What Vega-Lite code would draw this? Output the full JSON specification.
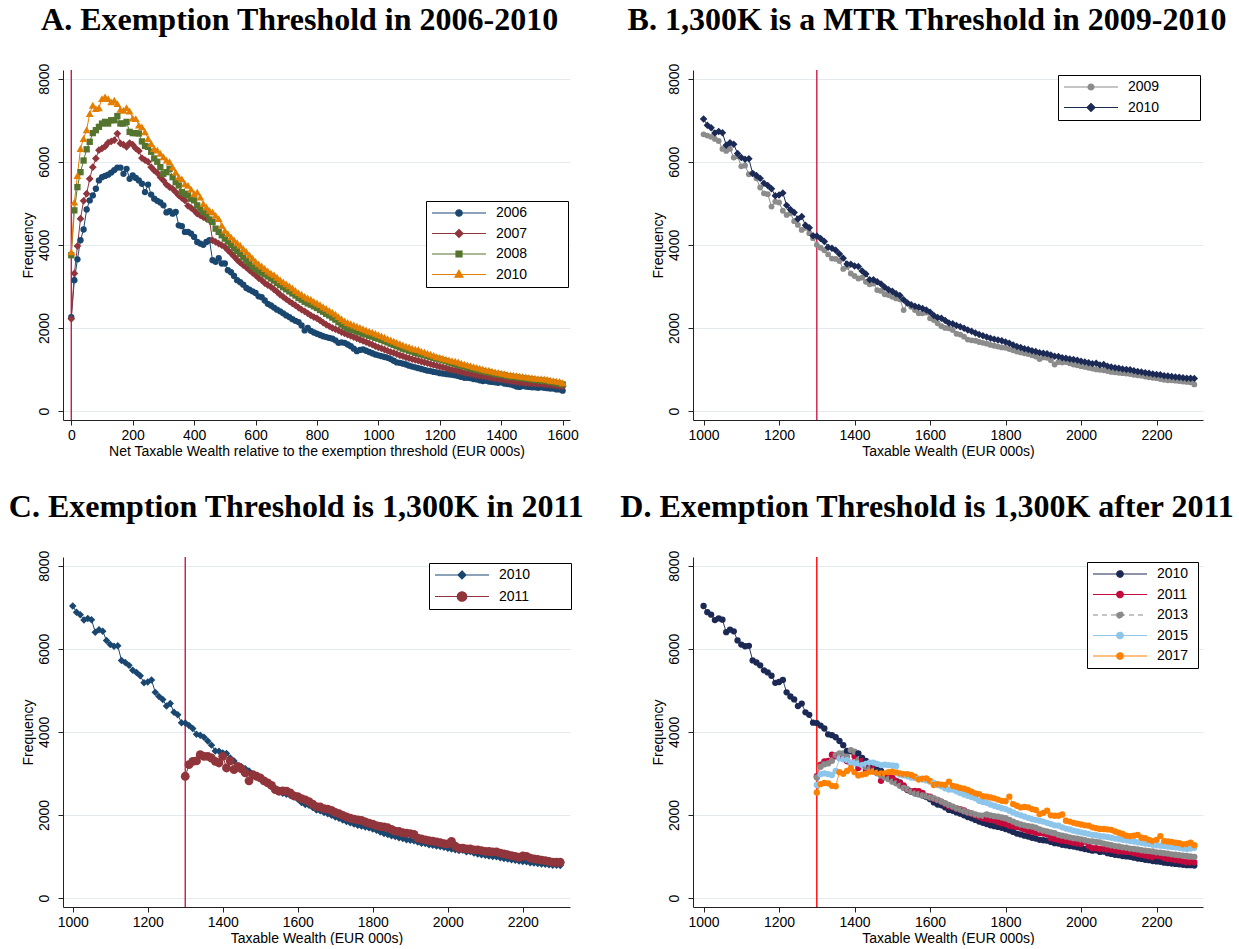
{
  "$schema": "https://vega.github.io/schema/vega-lite/v6.json",
  "background": "white",
  "padding": {"left": 8, "top": 4, "right": 0, "bottom": 0},
  "config": {
    "font": "Liberation Sans",
    "view": {"stroke": null},
    "title": {"font": "Liberation Serif", "fontSize": 32, "fontWeight": "bold", "color": "black", "anchor": "middle", "frame": "bounds", "offset": 26},
    "axis": {"labelFont": "Liberation Sans", "titleFont": "Liberation Sans", "labelFontSize": 14, "titleFontSize": 14, "titleFontWeight": "normal", "labelColor": "black", "titleColor": "black", "domainColor": "#222222", "tickColor": "#222222", "tickSize": 5, "domainWidth": 1, "tickWidth": 1},
    "axisX": {"grid": false, "labelPadding": 3, "titlePadding": 2, "labelFlush": false},
    "axisY": {"grid": true, "gridColor": "#e3ebee", "gridWidth": 1, "labelAngle": -90, "labelAlign": "center", "labelBaseline": "bottom", "labelPadding": 7, "titlePadding": 2},
    "legend": {"orient": "none", "symbolSize": 100, "symbolStrokeWidth": 1.2, "symbolOffset": 21, "labelOffset": 30, "labelFont": "Liberation Sans", "labelFontSize": 14, "labelColor": "black", "strokeColor": "black", "fillColor": "white", "padding": 5, "rowPadding": 6.5}
  },
  "datasets": {
    "a": [
      {"x":0,"2006":2260,"2007":2220,"2008":3750,"2010":3830},
      {"x":10,"2006":3150,"2007":3310,"2008":4830,"2010":5030},
      {"x":20,"2006":3650,"2007":3970,"2008":5390,"2010":5670},
      {"x":30,"2006":4110,"2007":4630,"2008":5750,"2010":6320},
      {"x":40,"2006":4370,"2007":5060,"2008":6030,"2010":6560},
      {"x":50,"2006":4850,"2007":5230,"2008":6300,"2010":6770},
      {"x":60,"2006":5070,"2007":5590,"2008":6480,"2010":7160},
      {"x":70,"2006":5190,"2007":5870,"2008":6690,"2010":7360},
      {"x":80,"2006":5350,"2007":6080,"2008":6760,"2010":7280},
      {"x":90,"2006":5550,"2007":6280,"2008":6840,"2010":7300},
      {"x":100,"2006":5630,"2007":6320,"2008":6920,"2010":7520},
      {"x":110,"2006":5660,"2007":6370,"2008":6960,"2010":7560},
      {"x":120,"2006":5690,"2007":6460,"2008":6920,"2010":7520},
      {"x":130,"2006":5740,"2007":6490,"2008":7000,"2010":7440},
      {"x":140,"2006":5800,"2007":6520,"2008":7000,"2010":7480},
      {"x":150,"2006":5860,"2007":6680,"2008":7100,"2010":7400},
      {"x":160,"2006":5860,"2007":6440,"2008":6920,"2010":7260},
      {"x":170,"2006":5710,"2007":6410,"2008":6920,"2010":7240},
      {"x":180,"2006":5830,"2007":6360,"2008":6960,"2010":7300},
      {"x":190,"2006":5590,"2007":6450,"2008":6720,"2010":7220},
      {"x":200,"2006":5670,"2007":6410,"2008":6690,"2010":7050},
      {"x":210,"2006":5610,"2007":6320,"2008":6690,"2010":7040},
      {"x":220,"2006":5550,"2007":6260,"2008":6680,"2010":6880},
      {"x":230,"2006":5470,"2007":6090,"2008":6490,"2010":6840},
      {"x":240,"2006":5270,"2007":6040,"2008":6380,"2010":6720},
      {"x":250,"2006":5450,"2007":6000,"2008":6360,"2010":6560},
      {"x":260,"2006":5210,"2007":5870,"2008":6240,"2010":6440},
      {"x":270,"2006":5110,"2007":5790,"2008":6080,"2010":6320},
      {"x":280,"2006":5060,"2007":5730,"2008":6000,"2010":6280},
      {"x":290,"2006":5020,"2007":5630,"2008":5870,"2010":6200},
      {"x":300,"2006":4950,"2007":5550,"2008":5710,"2010":6120},
      {"x":310,"2006":4780,"2007":5450,"2008":5750,"2010":6040},
      {"x":320,"2006":4810,"2007":5390,"2008":5830,"2010":6000},
      {"x":330,"2006":4750,"2007":5350,"2008":5630,"2010":5870},
      {"x":340,"2006":4790,"2007":5270,"2008":5510,"2010":5750},
      {"x":350,"2006":4470,"2007":5190,"2008":5430,"2010":5630},
      {"x":360,"2006":4450,"2007":5130,"2008":5270,"2010":5590},
      {"x":370,"2006":4310,"2007":5070,"2008":5230,"2010":5470},
      {"x":380,"2006":4310,"2007":4940,"2008":5190,"2010":5430},
      {"x":390,"2006":4270,"2007":4890,"2008":5110,"2010":5340},
      {"x":400,"2006":4190,"2007":4830,"2008":5070,"2010":5230},
      {"x":410,"2006":4070,"2007":4750,"2008":4950,"2010":5270},
      {"x":420,"2006":4030,"2007":4710,"2008":4870,"2010":5150},
      {"x":430,"2006":4000,"2007":4670,"2008":4790,"2010":4990},
      {"x":440,"2006":4070,"2007":4630,"2008":4750,"2010":4910},
      {"x":450,"2006":4110,"2007":4590,"2008":4610,"2010":4830},
      {"x":460,"2006":3630,"2007":4110,"2008":4550,"2010":4790},
      {"x":470,"2006":3590,"2007":4070,"2008":4390,"2010":4710},
      {"x":480,"2006":3680,"2007":4030,"2008":4310,"2010":4630},
      {"x":490,"2006":3550,"2007":3990,"2008":4230,"2010":4470},
      {"x":500,"2006":3550,"2007":3950,"2008":4150,"2010":4350},
      {"x":510,"2006":3390,"2007":3870,"2008":4080,"2010":4270},
      {"x":520,"2006":3340,"2007":3800,"2008":4000,"2010":4190},
      {"x":530,"2006":3250,"2007":3720,"2008":3920,"2010":4120},
      {"x":540,"2006":3150,"2007":3640,"2008":3850,"2010":4050},
      {"x":550,"2006":3100,"2007":3570,"2008":3780,"2010":3990},
      {"x":560,"2006":3040,"2007":3510,"2008":3700,"2010":3910},
      {"x":570,"2006":2960,"2007":3460,"2008":3620,"2010":3840},
      {"x":580,"2006":2920,"2007":3390,"2008":3550,"2010":3760},
      {"x":590,"2006":2880,"2007":3330,"2008":3480,"2010":3680},
      {"x":600,"2006":2840,"2007":3270,"2008":3420,"2010":3600},
      {"x":610,"2006":2760,"2007":3200,"2008":3370,"2010":3540},
      {"x":620,"2006":2740,"2007":3150,"2008":3330,"2010":3490},
      {"x":630,"2006":2660,"2007":3080,"2008":3290,"2010":3430},
      {"x":640,"2006":2580,"2007":3030,"2008":3240,"2010":3370},
      {"x":650,"2006":2540,"2007":2990,"2008":3190,"2010":3320},
      {"x":660,"2006":2490,"2007":2930,"2008":3140,"2010":3280},
      {"x":670,"2006":2440,"2007":2870,"2008":3080,"2010":3220},
      {"x":680,"2006":2400,"2007":2800,"2008":3030,"2010":3160},
      {"x":690,"2006":2350,"2007":2750,"2008":2980,"2010":3110},
      {"x":700,"2006":2300,"2007":2690,"2008":2930,"2010":3060},
      {"x":710,"2006":2260,"2007":2640,"2008":2880,"2010":3010},
      {"x":720,"2006":2210,"2007":2590,"2008":2830,"2010":2960},
      {"x":730,"2006":2170,"2007":2540,"2008":2780,"2010":2900},
      {"x":740,"2006":2140,"2007":2490,"2008":2720,"2010":2850},
      {"x":750,"2006":2060,"2007":2440,"2008":2680,"2010":2810},
      {"x":760,"2006":1940,"2007":2400,"2008":2630,"2010":2760},
      {"x":770,"2006":2000,"2007":2350,"2008":2590,"2010":2720},
      {"x":780,"2006":1930,"2007":2300,"2008":2560,"2010":2690},
      {"x":790,"2006":1890,"2007":2260,"2008":2520,"2010":2640},
      {"x":800,"2006":1860,"2007":2230,"2008":2480,"2010":2600},
      {"x":810,"2006":1830,"2007":2180,"2008":2430,"2010":2560},
      {"x":820,"2006":1800,"2007":2130,"2008":2390,"2010":2510},
      {"x":830,"2006":1780,"2007":2080,"2008":2340,"2010":2470},
      {"x":840,"2006":1760,"2007":2040,"2008":2300,"2010":2420},
      {"x":850,"2006":1740,"2007":2000,"2008":2250,"2010":2380},
      {"x":860,"2006":1700,"2007":1970,"2008":2200,"2010":2330},
      {"x":870,"2006":1640,"2007":1940,"2008":2140,"2010":2270},
      {"x":880,"2006":1650,"2007":1900,"2008":2080,"2010":2220},
      {"x":890,"2006":1640,"2007":1870,"2008":2030,"2010":2170},
      {"x":900,"2006":1600,"2007":1840,"2008":1990,"2010":2130},
      {"x":910,"2006":1560,"2007":1810,"2008":1960,"2010":2100},
      {"x":920,"2006":1500,"2007":1780,"2008":1940,"2010":2070},
      {"x":930,"2006":1440,"2007":1750,"2008":1910,"2010":2040},
      {"x":940,"2006":1470,"2007":1720,"2008":1890,"2010":2010},
      {"x":950,"2006":1480,"2007":1690,"2008":1860,"2010":1980},
      {"x":960,"2006":1450,"2007":1660,"2008":1840,"2010":1950},
      {"x":970,"2006":1420,"2007":1630,"2008":1810,"2010":1920},
      {"x":980,"2006":1390,"2007":1600,"2008":1790,"2010":1900},
      {"x":990,"2006":1360,"2007":1560,"2008":1760,"2010":1870},
      {"x":1000,"2006":1340,"2007":1530,"2008":1740,"2010":1840},
      {"x":1010,"2006":1320,"2007":1510,"2008":1710,"2010":1810},
      {"x":1020,"2006":1300,"2007":1480,"2008":1680,"2010":1780},
      {"x":1030,"2006":1280,"2007":1450,"2008":1650,"2010":1740},
      {"x":1040,"2006":1250,"2007":1420,"2008":1620,"2010":1710},
      {"x":1050,"2006":1210,"2007":1400,"2008":1590,"2010":1680},
      {"x":1060,"2006":1170,"2007":1370,"2008":1560,"2010":1650},
      {"x":1070,"2006":1160,"2007":1340,"2008":1530,"2010":1620},
      {"x":1080,"2006":1140,"2007":1320,"2008":1500,"2010":1590},
      {"x":1090,"2006":1120,"2007":1290,"2008":1480,"2010":1560},
      {"x":1100,"2006":1090,"2007":1270,"2008":1450,"2010":1540},
      {"x":1110,"2006":1070,"2007":1250,"2008":1430,"2010":1510},
      {"x":1120,"2006":1050,"2007":1230,"2008":1400,"2010":1490},
      {"x":1130,"2006":1030,"2007":1210,"2008":1380,"2010":1480},
      {"x":1140,"2006":1010,"2007":1190,"2008":1360,"2010":1440},
      {"x":1150,"2006":990,"2007":1170,"2008":1340,"2010":1420},
      {"x":1160,"2006":970,"2007":1150,"2008":1320,"2010":1390},
      {"x":1170,"2006":960,"2007":1130,"2008":1300,"2010":1370},
      {"x":1180,"2006":940,"2007":1110,"2008":1280,"2010":1340},
      {"x":1190,"2006":930,"2007":1090,"2008":1260,"2010":1310},
      {"x":1200,"2006":910,"2007":1070,"2008":1240,"2010":1290},
      {"x":1210,"2006":900,"2007":1050,"2008":1220,"2010":1270},
      {"x":1220,"2006":890,"2007":1030,"2008":1200,"2010":1250},
      {"x":1230,"2006":880,"2007":1010,"2008":1170,"2010":1230},
      {"x":1240,"2006":870,"2007":990,"2008":1150,"2010":1210},
      {"x":1250,"2006":860,"2007":980,"2008":1130,"2010":1200},
      {"x":1260,"2006":840,"2007":960,"2008":1110,"2010":1180},
      {"x":1270,"2006":820,"2007":940,"2008":1090,"2010":1150},
      {"x":1280,"2006":800,"2007":920,"2008":1070,"2010":1130},
      {"x":1290,"2006":800,"2007":910,"2008":1050,"2010":1110},
      {"x":1300,"2006":790,"2007":890,"2008":1030,"2010":1090},
      {"x":1310,"2006":770,"2007":880,"2008":1010,"2010":1070},
      {"x":1320,"2006":760,"2007":860,"2008":990,"2010":1050},
      {"x":1330,"2006":740,"2007":850,"2008":970,"2010":1030},
      {"x":1340,"2006":720,"2007":840,"2008":960,"2010":1010},
      {"x":1350,"2006":730,"2007":830,"2008":940,"2010":990},
      {"x":1360,"2006":710,"2007":810,"2008":930,"2010":980},
      {"x":1370,"2006":700,"2007":800,"2008":910,"2010":960},
      {"x":1380,"2006":690,"2007":780,"2008":890,"2010":940},
      {"x":1390,"2006":680,"2007":770,"2008":880,"2010":930},
      {"x":1400,"2006":690,"2007":760,"2008":870,"2010":910},
      {"x":1410,"2006":660,"2007":750,"2008":860,"2010":900},
      {"x":1420,"2006":650,"2007":740,"2008":840,"2010":880},
      {"x":1430,"2006":640,"2007":720,"2008":830,"2010":870},
      {"x":1440,"2006":620,"2007":710,"2008":820,"2010":860},
      {"x":1450,"2006":590,"2007":700,"2008":810,"2010":850},
      {"x":1460,"2006":580,"2007":690,"2008":800,"2010":840},
      {"x":1470,"2006":600,"2007":680,"2008":790,"2010":830},
      {"x":1480,"2006":590,"2007":670,"2008":780,"2010":820},
      {"x":1490,"2006":580,"2007":670,"2008":770,"2010":810},
      {"x":1500,"2006":570,"2007":660,"2008":760,"2010":800},
      {"x":1510,"2006":570,"2007":660,"2008":750,"2010":790},
      {"x":1520,"2006":560,"2007":650,"2008":740,"2010":780},
      {"x":1530,"2006":570,"2007":650,"2008":730,"2010":780},
      {"x":1540,"2006":560,"2007":640,"2008":730,"2010":770},
      {"x":1550,"2006":550,"2007":640,"2008":720,"2010":760},
      {"x":1560,"2006":540,"2007":630,"2008":700,"2010":740},
      {"x":1570,"2006":540,"2007":620,"2008":690,"2010":730},
      {"x":1580,"2006":520,"2007":610,"2008":670,"2010":720},
      {"x":1590,"2006":520,"2007":600,"2008":660,"2010":710},
      {"x":1600,"2006":490,"2007":590,"2008":640,"2010":680}
    ],
    "w": [
      {"x":1000,"2009":6660,"2010":7030},
      {"x":1010,"2009":6630,"2010":6880},
      {"x":1020,"2009":6600,"2010":6820},
      {"x":1030,"2009":6550,"2010":6690},
      {"x":1040,"2009":6500,"2010":6730},
      {"x":1050,"2009":6310,"2010":6700},
      {"x":1060,"2009":6260,"2010":6400},
      {"x":1070,"2009":6310,"2010":6460},
      {"x":1080,"2009":6100,"2010":6420},
      {"x":1090,"2009":6130,"2010":6200},
      {"x":1100,"2009":5890,"2010":6100},
      {"x":1110,"2009":5910,"2010":6060},
      {"x":1120,"2009":5700,"2010":6070},
      {"x":1130,"2009":5720,"2010":5720},
      {"x":1140,"2009":5600,"2010":5670},
      {"x":1150,"2009":5380,"2010":5600},
      {"x":1160,"2009":5240,"2010":5480},
      {"x":1170,"2009":5220,"2010":5430},
      {"x":1180,"2009":4920,"2010":5350},
      {"x":1190,"2009":5040,"2010":5180},
      {"x":1200,"2009":5020,"2010":5200},
      {"x":1210,"2009":4820,"2010":5250},
      {"x":1220,"2009":4720,"2010":4950},
      {"x":1230,"2009":4760,"2010":4850},
      {"x":1240,"2009":4570,"2010":4780},
      {"x":1250,"2009":4480,"2010":4620},
      {"x":1260,"2009":4360,"2010":4680},
      {"x":1270,"2009":4410,"2010":4470},
      {"x":1280,"2009":4280,"2010":4410},
      {"x":1290,"2009":4160,"2010":4220},
      {"x":1300,"2009":4000,"2010":4210,"2011":2930,"2013":2900,"2015":2720,"2017":2540},
      {"x":1310,"2009":3930,"2010":4150,"2011":3210,"2013":3160,"2015":2980,"2017":2740},
      {"x":1320,"2009":3870,"2010":4080,"2011":3290,"2013":3220,"2015":3000,"2017":2770},
      {"x":1330,"2009":3770,"2010":3940,"2011":3300,"2013":3240,"2015":2980,"2017":2760},
      {"x":1340,"2009":3670,"2010":3920,"2011":3450,"2013":3300,"2015":2960,"2017":2700},
      {"x":1350,"2009":3660,"2010":3870,"2011":3410,"2013":3440,"2015":3060,"2017":2690},
      {"x":1360,"2009":3610,"2010":3780,"2011":3410,"2013":3480,"2015":3360,"2017":3030},
      {"x":1370,"2009":3420,"2010":3680,"2011":3370,"2013":3480,"2015":3340,"2017":2990},
      {"x":1380,"2009":3470,"2010":3540,"2011":3290,"2013":3400,"2015":3320,"2017":3060},
      {"x":1390,"2009":3310,"2010":3530,"2011":3250,"2013":3560,"2015":3260,"2017":3120},
      {"x":1400,"2009":3250,"2010":3490,"2011":3410,"2013":3520,"2015":3250,"2017":3030},
      {"x":1410,"2009":3190,"2010":3480,"2011":3130,"2013":3320,"2015":3240,"2017":2950},
      {"x":1420,"2009":3210,"2010":3370,"2011":3300,"2013":3200,"2015":3200,"2017":2970},
      {"x":1430,"2009":3110,"2010":3300,"2011":3090,"2013":3150,"2015":3230,"2017":2990},
      {"x":1440,"2009":3050,"2010":3160,"2011":3170,"2013":3100,"2015":3260,"2017":3040},
      {"x":1450,"2009":3070,"2010":3160,"2011":3110,"2013":3060,"2015":3260,"2017":3040},
      {"x":1460,"2009":2910,"2010":3110,"2011":3010,"2013":3000,"2015":3230,"2017":3020},
      {"x":1470,"2009":2890,"2010":3060,"2011":2820,"2013":2950,"2015":3200,"2017":3000},
      {"x":1480,"2009":2810,"2010":2980,"2011":2970,"2013":2900,"2015":3210,"2017":3000},
      {"x":1490,"2009":2790,"2010":2920,"2011":2930,"2013":2860,"2015":3200,"2017":3030},
      {"x":1500,"2009":2750,"2010":2880,"2011":2890,"2013":2800,"2015":3190,"2017":3040},
      {"x":1510,"2009":2710,"2010":2820,"2011":2820,"2013":2760,"2015":3180,"2017":3020},
      {"x":1520,"2009":2690,"2010":2780,"2011":2770,"2013":2700,"2015":2970,"2017":3000},
      {"x":1530,"2009":2430,"2010":2680,"2011":2710,"2013":2650,"2015":2950,"2017":2980},
      {"x":1540,"2009":2590,"2010":2600,"2011":2610,"2013":2620,"2015":2930,"2017":2980},
      {"x":1550,"2009":2510,"2010":2560,"2011":2570,"2013":2560,"2015":2900,"2017":2960},
      {"x":1560,"2009":2430,"2010":2520,"2011":2580,"2013":2520,"2015":2890,"2017":2920},
      {"x":1570,"2009":2350,"2010":2500,"2011":2570,"2013":2500,"2015":2870,"2017":2850},
      {"x":1580,"2009":2350,"2010":2470,"2011":2530,"2013":2470,"2015":2850,"2017":2870},
      {"x":1590,"2009":2370,"2010":2430,"2011":2460,"2013":2450,"2015":2830,"2017":2880},
      {"x":1600,"2009":2230,"2010":2380,"2011":2440,"2013":2420,"2015":2800,"2017":2820},
      {"x":1610,"2009":2190,"2010":2300,"2011":2390,"2013":2400,"2015":2770,"2017":2720},
      {"x":1620,"2009":2110,"2010":2250,"2011":2360,"2013":2360,"2015":2720,"2017":2740},
      {"x":1630,"2009":2040,"2010":2230,"2011":2320,"2013":2320,"2015":2690,"2017":2730},
      {"x":1640,"2009":2000,"2010":2180,"2011":2260,"2013":2280,"2015":2640,"2017":2720},
      {"x":1650,"2009":1990,"2010":2120,"2011":2200,"2013":2240,"2015":2610,"2017":2800},
      {"x":1660,"2009":1950,"2010":2100,"2011":2190,"2013":2200,"2015":2610,"2017":2700},
      {"x":1670,"2009":1860,"2010":2060,"2011":2150,"2013":2160,"2015":2570,"2017":2680},
      {"x":1680,"2009":1840,"2010":2030,"2011":2140,"2013":2130,"2015":2530,"2017":2650},
      {"x":1690,"2009":1790,"2010":1990,"2011":2110,"2013":2090,"2015":2490,"2017":2630},
      {"x":1700,"2009":1720,"2010":1950,"2011":2060,"2013":2060,"2015":2460,"2017":2600},
      {"x":1710,"2009":1700,"2010":1920,"2011":2030,"2013":2040,"2015":2430,"2017":2560},
      {"x":1720,"2009":1690,"2010":1880,"2011":1990,"2013":2010,"2015":2400,"2017":2520},
      {"x":1730,"2009":1660,"2010":1840,"2011":1950,"2013":1990,"2015":2340,"2017":2500},
      {"x":1740,"2009":1640,"2010":1810,"2011":1920,"2013":1980,"2015":2310,"2017":2450},
      {"x":1750,"2009":1620,"2010":1780,"2011":1900,"2013":2010,"2015":2290,"2017":2440},
      {"x":1760,"2009":1590,"2010":1750,"2011":1880,"2013":1990,"2015":2250,"2017":2420},
      {"x":1770,"2009":1570,"2010":1730,"2011":1870,"2013":1970,"2015":2220,"2017":2400},
      {"x":1780,"2009":1550,"2010":1710,"2011":1830,"2013":1960,"2015":2190,"2017":2370},
      {"x":1790,"2009":1530,"2010":1690,"2011":1800,"2013":1940,"2015":2160,"2017":2340},
      {"x":1800,"2009":1520,"2010":1660,"2011":1780,"2013":1920,"2015":2140,"2017":2330},
      {"x":1810,"2009":1490,"2010":1630,"2011":1740,"2013":1880,"2015":2100,"2017":2440},
      {"x":1820,"2009":1460,"2010":1590,"2011":1720,"2013":1840,"2015":2060,"2017":2260},
      {"x":1830,"2009":1430,"2010":1550,"2011":1710,"2013":1800,"2015":2020,"2017":2220},
      {"x":1840,"2009":1410,"2010":1530,"2011":1690,"2013":1770,"2015":1990,"2017":2180},
      {"x":1850,"2009":1390,"2010":1500,"2011":1650,"2013":1750,"2015":1960,"2017":2190},
      {"x":1860,"2009":1370,"2010":1480,"2011":1610,"2013":1730,"2015":1930,"2017":2180},
      {"x":1870,"2009":1340,"2010":1450,"2011":1600,"2013":1720,"2015":1900,"2017":2140},
      {"x":1880,"2009":1310,"2010":1430,"2011":1570,"2013":1690,"2015":1880,"2017":2120},
      {"x":1890,"2009":1250,"2010":1400,"2011":1560,"2013":1650,"2015":1860,"2017":2020},
      {"x":1900,"2009":1290,"2010":1390,"2011":1550,"2013":1620,"2015":1840,"2017":2050},
      {"x":1910,"2009":1280,"2010":1380,"2011":1530,"2013":1600,"2015":1810,"2017":2100},
      {"x":1920,"2009":1220,"2010":1350,"2011":1440,"2013":1580,"2015":1780,"2017":1990},
      {"x":1930,"2009":1120,"2010":1320,"2011":1420,"2013":1560,"2015":1750,"2017":1980},
      {"x":1940,"2009":1180,"2010":1310,"2011":1400,"2013":1520,"2015":1740,"2017":1980},
      {"x":1950,"2009":1170,"2010":1280,"2011":1380,"2013":1500,"2015":1700,"2017":2010},
      {"x":1960,"2009":1180,"2010":1270,"2011":1370,"2013":1480,"2015":1670,"2017":1860},
      {"x":1970,"2009":1150,"2010":1250,"2011":1350,"2013":1460,"2015":1650,"2017":1840},
      {"x":1980,"2009":1120,"2010":1240,"2011":1330,"2013":1440,"2015":1620,"2017":1810},
      {"x":1990,"2009":1100,"2010":1220,"2011":1310,"2013":1430,"2015":1600,"2017":1790},
      {"x":2000,"2009":1080,"2010":1200,"2011":1300,"2013":1410,"2015":1580,"2017":1770},
      {"x":2010,"2009":1060,"2010":1180,"2011":1360,"2013":1390,"2015":1560,"2017":1750},
      {"x":2020,"2009":1040,"2010":1160,"2011":1250,"2013":1370,"2015":1540,"2017":1740},
      {"x":2030,"2009":1020,"2010":1140,"2011":1200,"2013":1360,"2015":1520,"2017":1700},
      {"x":2040,"2009":1000,"2010":1150,"2011":1200,"2013":1350,"2015":1510,"2017":1680},
      {"x":2050,"2009":990,"2010":1110,"2011":1180,"2013":1340,"2015":1490,"2017":1660},
      {"x":2060,"2009":980,"2010":1120,"2011":1180,"2013":1310,"2015":1480,"2017":1660},
      {"x":2070,"2009":960,"2010":1080,"2011":1160,"2013":1290,"2015":1470,"2017":1650},
      {"x":2080,"2009":940,"2010":1060,"2011":1160,"2013":1270,"2015":1450,"2017":1640},
      {"x":2090,"2009":930,"2010":1040,"2011":1140,"2013":1250,"2015":1430,"2017":1600},
      {"x":2100,"2009":920,"2010":1030,"2011":1120,"2013":1240,"2015":1420,"2017":1570},
      {"x":2110,"2009":910,"2010":1010,"2011":1120,"2013":1220,"2015":1400,"2017":1540},
      {"x":2120,"2009":900,"2010":1000,"2011":1110,"2013":1210,"2015":1390,"2017":1500},
      {"x":2130,"2009":890,"2010":990,"2011":1110,"2013":1190,"2015":1370,"2017":1490},
      {"x":2140,"2009":870,"2010":970,"2011":1080,"2013":1180,"2015":1360,"2017":1500},
      {"x":2150,"2009":860,"2010":950,"2011":1060,"2013":1170,"2015":1340,"2017":1520},
      {"x":2160,"2009":850,"2010":940,"2011":1040,"2013":1150,"2015":1330,"2017":1450},
      {"x":2170,"2009":830,"2010":920,"2011":1020,"2013":1140,"2015":1310,"2017":1440},
      {"x":2180,"2009":810,"2010":910,"2011":1000,"2013":1130,"2015":1300,"2017":1400},
      {"x":2190,"2009":800,"2010":890,"2011":980,"2013":1120,"2015":1280,"2017":1370},
      {"x":2200,"2009":790,"2010":880,"2011":1010,"2013":1100,"2015":1270,"2017":1400},
      {"x":2210,"2009":770,"2010":870,"2011":1000,"2013":1090,"2015":1260,"2017":1490},
      {"x":2220,"2009":750,"2010":850,"2011":960,"2013":1080,"2015":1250,"2017":1370},
      {"x":2230,"2009":740,"2010":840,"2011":940,"2013":1070,"2015":1240,"2017":1360},
      {"x":2240,"2009":740,"2010":830,"2011":930,"2013":1050,"2015":1230,"2017":1350},
      {"x":2250,"2009":730,"2010":820,"2011":910,"2013":1040,"2015":1220,"2017":1330},
      {"x":2260,"2009":720,"2010":810,"2011":900,"2013":1030,"2015":1210,"2017":1320},
      {"x":2270,"2009":710,"2010":800,"2011":880,"2013":1020,"2015":1190,"2017":1290},
      {"x":2280,"2009":700,"2010":790,"2011":860,"2013":1010,"2015":1180,"2017":1300},
      {"x":2290,"2009":690,"2010":790,"2011":860,"2013":1000,"2015":1190,"2017":1330},
      {"x":2300,"2009":640,"2010":780,"2011":860,"2013":990,"2015":1210,"2017":1270}
    ]
  },
  "vconcat": [
    {
      "bounds": "flush",
      "spacing": 123,
      "resolve": {"scale": {"x": "independent", "y": "independent", "color": "independent", "strokeDash": "independent"}},
      "hconcat": [
        {
          "title": "A. Exemption Threshold in 2006-2010",
          "width": 507,
          "height": 350,
          "layer": [
            {
              "data": {"values": [{"x": 0}]},
              "mark": {"type": "rule", "color": "#cc1a45", "strokeWidth": 1.4},
              "encoding": {
                "x": {"field": "x", "type": "quantitative", "title": "Net Taxable Wealth relative to the exemption threshold (EUR 000s)", "scale": {"domain": [-27, 1624], "nice": false, "zero": false}}
              }
            },
            {
              "data": {"name": "a"},
              "transform": [{"fold": ["2006", "2007", "2008", "2010"], "as": ["year", "n"]}],
              "mark": {"type": "line", "strokeWidth": 1},
              "encoding": {
                "x": {"field": "x", "type": "quantitative", "title": "Net Taxable Wealth relative to the exemption threshold (EUR 000s)", "scale": {"domain": [-27, 1624], "nice": false, "zero": false}, "axis": {"values": [0, 200, 400, 600, 800, 1000, 1200, 1400, 1600], "format": "d"}},
                "y": {"field": "n", "type": "quantitative", "title": "Frequency", "scale": {"domain": [-217, 8209], "nice": false, "zero": false}, "axis": {"values": [0, 2000, 4000, 6000, 8000], "format": "d"}},
                "color": {
                  "field": "year", "type": "nominal",
                  "scale": {"domain": ["2006", "2007", "2008", "2010"], "range": ["#1a476f", "#90353b", "#55752f", "#e37e00"]},
                  "legend": {
                    "title": null, "orient": "none", "legendX": 363, "legendY": 131,
                    "labelExpr": "datum.label + '\u00a0\u00a0\u00a0\u00a0\u00a0\u00a0\u00a0\u00a0\u00a0\u200b'",
                    "encode": {"symbols": {"update": {
                      "shape": {"signal": "datum.value==='2006'?'M-5.4,0L5.4,0M-0.65,0A0.65,0.65,0,1,0,0.65,0A0.65,0.65,0,1,0,-0.65,0Z':datum.value==='2007'?'M-5.4,0L5.4,0M0,-0.8L0.8,0L0,0.8L-0.8,0Z':datum.value==='2008'?'M-5.4,0L5.4,0M-0.6,-0.6L0.6,-0.6L0.6,0.6L-0.6,0.6Z':'M-5.4,0L5.4,0M0,-0.85L0.8,0.55L-0.8,0.55Z'"},
                      "fill": {"signal": "datum.value==='2006'?'#1a476f':datum.value==='2007'?'#90353b':datum.value==='2008'?'#55752f':'#e37e00'"},
                      "stroke": {"signal": "datum.value==='2006'?'#1a476f':datum.value==='2007'?'#90353b':datum.value==='2008'?'#55752f':'#e37e00'"},
                      "opacity": {"value": 1}
                    }}}
                  }
                }
              }
            },
            {
              "data": {"name": "a"},
              "transform": [{"fold": ["2006"], "as": ["year", "n"]}],
              "mark": {"type": "point", "filled": true, "opacity": 1, "shape": "circle", "size": 40, "color": "#1a476f"},
              "encoding": {
                "x": {"field": "x", "type": "quantitative", "title": "Net Taxable Wealth relative to the exemption threshold (EUR 000s)", "scale": {"domain": [-27, 1624], "nice": false, "zero": false}},
                "y": {"field": "n", "type": "quantitative", "title": "Frequency", "scale": {"domain": [-217, 8209], "nice": false, "zero": false}}
              }
            },
            {
              "data": {"name": "a"},
              "transform": [{"fold": ["2007"], "as": ["year", "n"]}],
              "mark": {"type": "point", "filled": true, "opacity": 1, "shape": "diamond", "size": 60, "color": "#90353b"},
              "encoding": {
                "x": {"field": "x", "type": "quantitative", "title": "Net Taxable Wealth relative to the exemption threshold (EUR 000s)", "scale": {"domain": [-27, 1624], "nice": false, "zero": false}},
                "y": {"field": "n", "type": "quantitative", "title": "Frequency", "scale": {"domain": [-217, 8209], "nice": false, "zero": false}}
              }
            },
            {
              "data": {"name": "a"},
              "transform": [{"fold": ["2008"], "as": ["year", "n"]}],
              "mark": {"type": "point", "filled": true, "opacity": 1, "shape": "square", "size": 40, "color": "#55752f"},
              "encoding": {
                "x": {"field": "x", "type": "quantitative", "title": "Net Taxable Wealth relative to the exemption threshold (EUR 000s)", "scale": {"domain": [-27, 1624], "nice": false, "zero": false}},
                "y": {"field": "n", "type": "quantitative", "title": "Frequency", "scale": {"domain": [-217, 8209], "nice": false, "zero": false}}
              }
            },
            {
              "data": {"name": "a"},
              "transform": [{"fold": ["2010"], "as": ["year", "n"]}],
              "mark": {"type": "point", "filled": true, "opacity": 1, "shape": "triangle-up", "size": 62, "color": "#e37e00"},
              "encoding": {
                "x": {"field": "x", "type": "quantitative", "title": "Net Taxable Wealth relative to the exemption threshold (EUR 000s)", "scale": {"domain": [-27, 1624], "nice": false, "zero": false}},
                "y": {"field": "n", "type": "quantitative", "title": "Frequency", "scale": {"domain": [-217, 8209], "nice": false, "zero": false}}
              }
            }
          ]
        },
        {
          "title": "B. 1,300K is a MTR Threshold in 2009-2010",
          "width": 510,
          "height": 350,
          "layer": [
            {
              "data": {"values": [{"x": 1300}]},
              "mark": {"type": "rule", "color": "#cc1a45", "strokeWidth": 1.4},
              "encoding": {
                "x": {"field": "x", "type": "quantitative", "title": "Taxable Wealth (EUR 000s)", "scale": {"domain": [972, 2323], "nice": false, "zero": false}}
              }
            },
            {
              "data": {"name": "w"},
              "transform": [{"fold": ["2009", "2010"], "as": ["year", "n"]}],
              "mark": {"type": "line", "strokeWidth": 1},
              "encoding": {
                "x": {"field": "x", "type": "quantitative", "title": "Taxable Wealth (EUR 000s)", "scale": {"domain": [972, 2323], "nice": false, "zero": false}, "axis": {"values": [1000, 1200, 1400, 1600, 1800, 2000, 2200], "format": "d"}},
                "y": {"field": "n", "type": "quantitative", "title": "Frequency", "scale": {"domain": [-217, 8209], "nice": false, "zero": false}, "axis": {"values": [0, 2000, 4000, 6000, 8000], "format": "d"}},
                "color": {
                  "field": "year", "type": "nominal",
                  "scale": {"domain": ["2009", "2010"], "range": ["#8c8c8c", "#1b2a55"]},
                  "legend": {
                    "title": null, "orient": "none", "legendX": 365, "legendY": 5,
                    "labelExpr": "datum.label + '\u00a0\u00a0\u00a0\u00a0\u00a0\u00a0\u00a0\u00a0\u00a0\u200b'",
                    "encode": {"symbols": {"update": {
                      "shape": {"signal": "datum.value==='2009'?'M-5.4,0L5.4,0M-0.6,0A0.6,0.6,0,1,0,0.6,0A0.6,0.6,0,1,0,-0.6,0Z':'M-5.4,0L5.4,0M0,-0.8L0.8,0L0,0.8L-0.8,0Z'"},
                      "fill": {"signal": "datum.value==='2009'?'#8c8c8c':'#1b2a55'"},
                      "stroke": {"signal": "datum.value==='2009'?'#8c8c8c':'#1b2a55'"},
                      "opacity": {"value": 1}
                    }}}
                  }
                }
              }
            },
            {
              "data": {"name": "w"},
              "transform": [{"fold": ["2009"], "as": ["year", "n"]}],
              "mark": {"type": "point", "filled": true, "opacity": 1, "shape": "circle", "size": 34, "color": "#8c8c8c"},
              "encoding": {
                "x": {"field": "x", "type": "quantitative", "title": "Taxable Wealth (EUR 000s)", "scale": {"domain": [972, 2323], "nice": false, "zero": false}},
                "y": {"field": "n", "type": "quantitative", "title": "Frequency", "scale": {"domain": [-217, 8209], "nice": false, "zero": false}}
              }
            },
            {
              "data": {"name": "w"},
              "transform": [{"fold": ["2010"], "as": ["year", "n"]}],
              "mark": {"type": "point", "filled": true, "opacity": 1, "shape": "diamond", "size": 56, "color": "#1b2a55"},
              "encoding": {
                "x": {"field": "x", "type": "quantitative", "title": "Taxable Wealth (EUR 000s)", "scale": {"domain": [972, 2323], "nice": false, "zero": false}},
                "y": {"field": "n", "type": "quantitative", "title": "Frequency", "scale": {"domain": [-217, 8209], "nice": false, "zero": false}}
              }
            }
          ]
        }
      ]
    },
    {
      "bounds": "flush",
      "spacing": 123,
      "resolve": {"scale": {"x": "independent", "y": "independent", "color": "independent", "strokeDash": "independent"}},
      "hconcat": [
        {
          "title": "C. Exemption Threshold is 1,300K in 2011",
          "width": 507,
          "height": 350,
          "layer": [
            {
              "data": {"values": [{"x": 1300}]},
              "mark": {"type": "rule", "color": "#cc1a45", "strokeWidth": 1.4},
              "encoding": {
                "x": {"field": "x", "type": "quantitative", "title": "Taxable Wealth (EUR 000s)", "scale": {"domain": [974, 2326], "nice": false, "zero": false}}
              }
            },
            {
              "data": {"name": "w"},
              "transform": [{"fold": ["2010", "2011"], "as": ["year", "n"]}, {"filter": "isValid(datum.n)"}],
              "mark": {"type": "line", "strokeWidth": 1},
              "encoding": {
                "x": {"field": "x", "type": "quantitative", "title": "Taxable Wealth (EUR 000s)", "scale": {"domain": [974, 2326], "nice": false, "zero": false}, "axis": {"values": [1000, 1200, 1400, 1600, 1800, 2000, 2200], "format": "d"}},
                "y": {"field": "n", "type": "quantitative", "title": "Frequency", "scale": {"domain": [-217, 8209], "nice": false, "zero": false}, "axis": {"values": [0, 2000, 4000, 6000, 8000], "format": "d"}},
                "color": {
                  "field": "year", "type": "nominal",
                  "scale": {"domain": ["2010", "2011"], "range": ["#1a476f", "#90353b"]},
                  "legend": {
                    "title": null, "orient": "none", "legendX": 366, "legendY": 6,
                    "labelExpr": "datum.label + '\u00a0\u00a0\u00a0\u00a0\u00a0\u00a0\u00a0\u00a0\u00a0\u200b'",
                    "encode": {"symbols": {"update": {
                      "shape": {"signal": "datum.value==='2010'?'M-5.4,0L5.4,0M0,-0.8L0.8,0L0,0.8L-0.8,0Z':'M-5.4,0L5.4,0M-0.95,0A0.95,0.95,0,1,0,0.95,0A0.95,0.95,0,1,0,-0.95,0Z'"},
                      "fill": {"signal": "datum.value==='2010'?'#1a476f':'#90353b'"},
                      "stroke": {"signal": "datum.value==='2010'?'#1a476f':'#90353b'"},
                      "opacity": {"value": 1}
                    }}}
                  }
                }
              }
            },
            {
              "data": {"name": "w"},
              "transform": [{"fold": ["2010"], "as": ["year", "n"]}],
              "mark": {"type": "point", "filled": true, "opacity": 1, "shape": "diamond", "size": 56, "color": "#1a476f"},
              "encoding": {
                "x": {"field": "x", "type": "quantitative", "title": "Taxable Wealth (EUR 000s)", "scale": {"domain": [974, 2326], "nice": false, "zero": false}},
                "y": {"field": "n", "type": "quantitative", "title": "Frequency", "scale": {"domain": [-217, 8209], "nice": false, "zero": false}}
              }
            },
            {
              "data": {"name": "w"},
              "transform": [{"fold": ["2011"], "as": ["year", "n"]}, {"filter": "isValid(datum.n)"}],
              "mark": {"type": "point", "filled": true, "opacity": 1, "shape": "circle", "size": 78, "color": "#90353b"},
              "encoding": {
                "x": {"field": "x", "type": "quantitative", "title": "Taxable Wealth (EUR 000s)", "scale": {"domain": [974, 2326], "nice": false, "zero": false}},
                "y": {"field": "n", "type": "quantitative", "title": "Frequency", "scale": {"domain": [-217, 8209], "nice": false, "zero": false}}
              }
            }
          ]
        },
        {
          "title": "D. Exemption Threshold is 1,300K after 2011",
          "width": 510,
          "height": 350,
          "layer": [
            {
              "data": {"values": [{"x": 1300}]},
              "mark": {"type": "rule", "color": "#ff0000", "strokeWidth": 1.4},
              "encoding": {
                "x": {"field": "x", "type": "quantitative", "title": "Taxable Wealth (EUR 000s)", "scale": {"domain": [972, 2323], "nice": false, "zero": false}}
              }
            },
            {
              "data": {"name": "w"},
              "transform": [{"fold": ["2010", "2011", "2013", "2015", "2017"], "as": ["year", "n"]}, {"filter": "isValid(datum.n)"}],
              "mark": {"type": "line", "strokeWidth": 1},
              "encoding": {
                "x": {"field": "x", "type": "quantitative", "title": "Taxable Wealth (EUR 000s)", "scale": {"domain": [972, 2323], "nice": false, "zero": false}, "axis": {"values": [1000, 1200, 1400, 1600, 1800, 2000, 2200], "format": "d"}},
                "y": {"field": "n", "type": "quantitative", "title": "Frequency", "scale": {"domain": [-217, 8209], "nice": false, "zero": false}, "axis": {"values": [0, 2000, 4000, 6000, 8000], "format": "d"}},
                "strokeDash": {"field": "year", "type": "nominal", "scale": {"domain": ["2010", "2011", "2013", "2015", "2017"], "range": [[1, 0], [1, 0], [5, 4], [1, 0], [1, 0]]}, "legend": null},
                "color": {
                  "field": "year", "type": "nominal",
                  "scale": {"domain": ["2010", "2011", "2013", "2015", "2017"], "range": ["#1c2955", "#c40a3c", "#8a8a8a", "#8ec5ea", "#ff8000"]},
                  "legend": {
                    "title": null, "orient": "none", "legendX": 394, "legendY": 5,
                    "labelExpr": "datum.label + '\u00a0\u200b'",
                    "encode": {"symbols": {"update": {
                      "shape": {"value": "M-5.4,0L5.4,0M-0.65,0A0.65,0.65,0,1,0,0.65,0A0.65,0.65,0,1,0,-0.65,0Z"},
                      "fill": {"signal": "datum.value==='2010'?'#1c2955':datum.value==='2011'?'#c40a3c':datum.value==='2013'?'#8a8a8a':datum.value==='2015'?'#8ec5ea':'#ff8000'"},
                      "stroke": {"signal": "datum.value==='2010'?'#1c2955':datum.value==='2011'?'#c40a3c':datum.value==='2013'?'#8a8a8a':datum.value==='2015'?'#8ec5ea':'#ff8000'"},
                      "strokeDash": {"signal": "datum.value==='2013'?[5,4]:[1,0]"},
                      "opacity": {"value": 1}
                    }}}
                  }
                }
              }
            },
            {
              "data": {"name": "w"},
              "transform": [{"fold": ["2010", "2011", "2013", "2015", "2017"], "as": ["year", "n"]}, {"filter": "isValid(datum.n)"}],
              "mark": {"type": "point", "filled": true, "opacity": 1, "size": 40, "shape": "circle"},
              "encoding": {
                "x": {"field": "x", "type": "quantitative", "title": "Taxable Wealth (EUR 000s)", "scale": {"domain": [972, 2323], "nice": false, "zero": false}},
                "y": {"field": "n", "type": "quantitative", "title": "Frequency", "scale": {"domain": [-217, 8209], "nice": false, "zero": false}},
                "color": {"field": "year", "type": "nominal", "scale": {"domain": ["2010", "2011", "2013", "2015", "2017"], "range": ["#1c2955", "#c40a3c", "#8a8a8a", "#8ec5ea", "#ff8000"]}}
              }
            }
          ]
        }
      ]
    }
  ],
  "spacing": 33,
  "resolve": {"scale": {"x": "independent", "y": "independent", "color": "independent", "strokeDash": "independent"}}
}
